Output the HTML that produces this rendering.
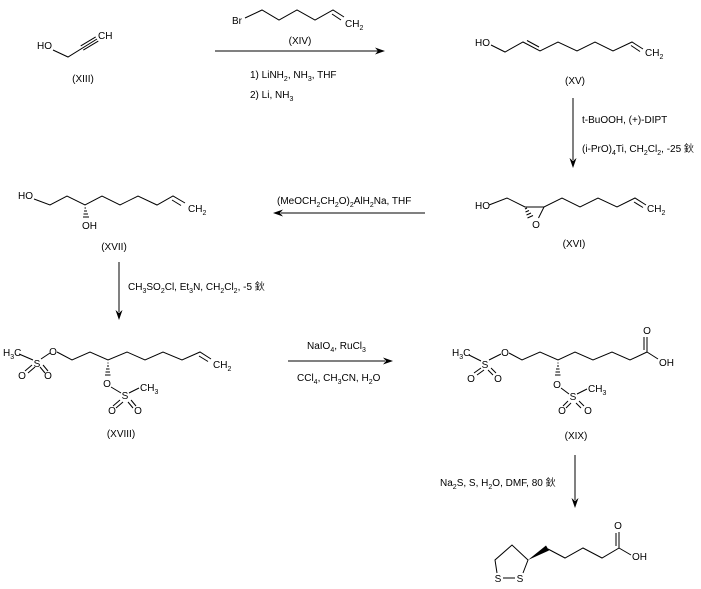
<!DOCTYPE html>
<html><head><meta charset="utf-8">
<style>
html,body{margin:0;padding:0;background:#fff;}
svg{display:block;}
text{font-family:"Liberation Sans","Noto Sans CJK SC",sans-serif;font-size:10px;fill:#000;}
</style></head>
<body>
<svg width="701" height="589" xmlns="http://www.w3.org/2000/svg">
<rect width="701" height="589" fill="#fff"/>
<g stroke="#000" stroke-width="1" fill="none">
<!-- XIII -->
<polyline points="53,50 68,57 97,39"/>
<line x1="80.7" y1="45.9" x2="95.7" y2="36.9"/>
<line x1="83.3" y1="50.1" x2="98.3" y2="41.1"/>
<!-- arrow 1 -->
<line x1="215" y1="51" x2="378" y2="51"/>
<!-- XIV -->
<polyline points="245,18 262,10 279,20 297,10 315,20 333,10 344,17"/>
<line x1="332" y1="14" x2="341" y2="20"/>
<!-- XV -->
<polyline points="491,45 505,52 523,42 540,51 558,42 577,51 595,42 613,51 632,42 643,49"/>
<line x1="527" y1="40.5" x2="539" y2="47"/>
<line x1="631" y1="45.5" x2="640" y2="51.5"/>
<!-- arrow 2 -->
<line x1="573" y1="98" x2="573" y2="160"/>
<!-- XVI -->
<polyline points="489,205 507,198 525,207 544,207 562,198 580,207 598,198 617,207 635,198 646,205"/>
<line x1="544" y1="207" x2="538.5" y2="218"/>
<line x1="634" y1="202" x2="643" y2="207.5"/>
<line x1="525" y1="209" x2="527" y2="208"/>
<line x1="525.5" y1="212" x2="529" y2="210.5"/>
<line x1="526.5" y1="215" x2="531" y2="213"/>
<line x1="527.5" y1="218" x2="533" y2="215.5"/>
<!-- arrow 3 -->
<line x1="281" y1="213" x2="425" y2="213"/>
<!-- XVII -->
<polyline points="34,199 50,205 67,196 85,205 102,196 120,205 138,196 157,205 173,196 185,203"/>
<line x1="172" y1="200" x2="181" y2="205.5"/>
<line x1="84.5" y1="208" x2="86" y2="208"/>
<line x1="84" y1="211" x2="87" y2="211"/>
<line x1="83.5" y1="214" x2="88" y2="214"/>
<line x1="83" y1="217" x2="89" y2="217"/>
<!-- arrow 4 -->
<line x1="119" y1="262" x2="119" y2="312"/>
<!-- XVIII -->
<line x1="19" y1="354" x2="33" y2="360"/>
<line x1="41" y1="359" x2="50" y2="353"/>
<line x1="32" y1="365" x2="25" y2="371"/>
<line x1="35" y1="367" x2="28" y2="373"/>
<line x1="40" y1="367" x2="45" y2="373"/>
<line x1="43" y1="365" x2="48" y2="371"/>
<polyline points="57,352 72,360 90,352 108,360 127,352 145,360 163,352 182,360 200,352 211,359"/>
<line x1="199" y1="356" x2="208" y2="361.5"/>
<line x1="107.5" y1="363" x2="108.5" y2="363"/>
<line x1="107" y1="366" x2="109" y2="366"/>
<line x1="106" y1="369" x2="109.5" y2="369"/>
<line x1="105.5" y1="372" x2="110" y2="372"/>
<line x1="105" y1="375" x2="110.5" y2="375"/>
<line x1="111" y1="387" x2="121" y2="393"/>
<line x1="129" y1="393" x2="139" y2="388"/>
<line x1="120" y1="400" x2="113" y2="406"/>
<line x1="123" y1="402" x2="116" y2="408"/>
<line x1="128" y1="402" x2="133" y2="408"/>
<line x1="131" y1="400" x2="136" y2="406"/>
<!-- arrow 5 -->
<line x1="288" y1="361" x2="385" y2="361"/>
<!-- XIX -->
<line x1="469" y1="355" x2="481" y2="361"/>
<line x1="489" y1="360" x2="501" y2="354"/>
<line x1="481" y1="368" x2="474" y2="373"/>
<line x1="484" y1="370" x2="477" y2="375"/>
<line x1="488" y1="370" x2="493" y2="375"/>
<line x1="491" y1="368" x2="496" y2="373"/>
<polyline points="509,353 522,360 540,352 558,360 575,352 593,360 612,352 630,360 647,352 647,337"/>
<line x1="644" y1="350" x2="644" y2="337"/>
<line x1="647" y1="352" x2="658" y2="359"/>
<line x1="557.5" y1="363" x2="558.5" y2="363"/>
<line x1="557" y1="366" x2="559" y2="366"/>
<line x1="556" y1="369" x2="559.5" y2="369"/>
<line x1="555.5" y1="372" x2="560" y2="372"/>
<line x1="555" y1="375" x2="560.5" y2="375"/>
<line x1="561" y1="388" x2="569" y2="394"/>
<line x1="577" y1="394" x2="587" y2="389"/>
<line x1="568" y1="401" x2="563" y2="406"/>
<line x1="571" y1="403" x2="566" y2="408"/>
<line x1="576" y1="403" x2="581" y2="408"/>
<line x1="579" y1="401" x2="584" y2="406"/>
<!-- arrow 6 -->
<line x1="575" y1="455" x2="575" y2="500"/>
<!-- lipoic acid -->
<line x1="503" y1="578" x2="515" y2="578"/>
<polyline points="497,573 495,560 512,545 528,560 523,573"/>
<polyline points="548,549 565,558 583,548 602,558 619,548 619,532"/>
<line x1="616" y1="546" x2="616" y2="533"/>
<line x1="619" y1="548" x2="631" y2="555"/>
</g>
<!-- wedge & arrowheads -->
<g fill="#000" stroke="none">
<polygon points="528,560 546,545.5 549,550.5"/>
<polygon points="385,51 375,47.5 378,51 375,54.5"/>
<polygon points="573,168 569.5,158 573,161 576.5,158"/>
<polygon points="273,213 283,209.5 280,213 283,216.5"/>
<polygon points="119,320 115.5,310 119,313 122.5,310"/>
<polygon points="393,361 383,357.5 386,361 383,364.5"/>
<polygon points="575,508 571.5,498 575,501 578.5,498"/>
</g>

<!-- XIII text -->
<text x="37" y="49">HO</text>
<text x="98" y="39">CH</text>
<text x="83" y="82" text-anchor="middle">(XIII)</text>
<!-- XIV -->
<text x="232" y="24">Br</text>
<text x="345" y="27">CH<tspan dy="3" font-size="7">2</tspan></text>
<text x="300" y="44" text-anchor="middle">(XIV)</text>
<text x="250" y="78">1) LiNH<tspan dy="3" font-size="7">2</tspan><tspan dy="-3">, NH</tspan><tspan dy="3" font-size="7">3</tspan><tspan dy="-3">, THF</tspan></text>
<text x="250" y="98">2) Li, NH<tspan dy="3" font-size="7">3</tspan></text>
<!-- XV -->
<text x="475" y="46">HO</text>
<text x="645" y="56">CH<tspan dy="3" font-size="7">2</tspan></text>
<text x="575" y="84" text-anchor="middle">(XV)</text>
<text x="582" y="123">t-BuOOH, (+)-DIPT</text>
<text x="582" y="152">(i-PrO)<tspan dy="3" font-size="7">4</tspan><tspan dy="-3">Ti, CH</tspan><tspan dy="3" font-size="7">2</tspan><tspan dy="-3">Cl</tspan><tspan dy="3" font-size="7">2</tspan><tspan dy="-3">, -25 鈥</tspan></text>
<!-- XVI -->
<text x="475" y="209">HO</text>
<text x="536" y="228" text-anchor="middle">O</text>
<text x="647" y="212">CH<tspan dy="3" font-size="7">2</tspan></text>
<text x="574" y="247" text-anchor="middle">(XVI)</text>
<text x="277" y="204">(MeOCH<tspan dy="3" font-size="7">2</tspan><tspan dy="-3">CH</tspan><tspan dy="3" font-size="7">2</tspan><tspan dy="-3">O)</tspan><tspan dy="3" font-size="7">2</tspan><tspan dy="-3">AlH</tspan><tspan dy="3" font-size="7">2</tspan><tspan dy="-3">Na, THF</tspan></text>
<!-- XVII -->
<text x="18" y="199">HO</text>
<text x="82" y="229">OH</text>
<text x="188" y="212">CH<tspan dy="3" font-size="7">2</tspan></text>
<text x="114" y="250" text-anchor="middle">(XVII)</text>
<text x="128" y="290">CH<tspan dy="3" font-size="7">3</tspan><tspan dy="-3">SO</tspan><tspan dy="3" font-size="7">2</tspan><tspan dy="-3">Cl, Et</tspan><tspan dy="3" font-size="7">3</tspan><tspan dy="-3">N, CH</tspan><tspan dy="3" font-size="7">2</tspan><tspan dy="-3">Cl</tspan><tspan dy="3" font-size="7">2</tspan><tspan dy="-3">, -5 鈥</tspan></text>
<!-- XVIII -->
<text x="3" y="356">H<tspan dy="3" font-size="7">3</tspan><tspan dy="-3">C</tspan></text>
<text x="37" y="367" text-anchor="middle">S</text>
<text x="53" y="355" text-anchor="middle">O</text>
<text x="22" y="379" text-anchor="middle">O</text>
<text x="48" y="379" text-anchor="middle">O</text>
<text x="107" y="387" text-anchor="middle">O</text>
<text x="125" y="399" text-anchor="middle">S</text>
<text x="140" y="391">CH<tspan dy="3" font-size="7">3</tspan></text>
<text x="112" y="414" text-anchor="middle">O</text>
<text x="138" y="414" text-anchor="middle">O</text>
<text x="213" y="368">CH<tspan dy="3" font-size="7">2</tspan></text>
<text x="121" y="437" text-anchor="middle">(XVIII)</text>
<text x="307" y="349">NaIO<tspan dy="3" font-size="7">4</tspan><tspan dy="-3">, RuCl</tspan><tspan dy="3" font-size="7">3</tspan></text>
<text x="297" y="381">CCl<tspan dy="3" font-size="7">4</tspan><tspan dy="-3">, CH</tspan><tspan dy="3" font-size="7">3</tspan><tspan dy="-3">CN, H</tspan><tspan dy="3" font-size="7">2</tspan><tspan dy="-3">O</tspan></text>
<!-- XIX -->
<text x="452" y="356">H<tspan dy="3" font-size="7">3</tspan><tspan dy="-3">C</tspan></text>
<text x="485" y="368" text-anchor="middle">S</text>
<text x="505" y="356" text-anchor="middle">O</text>
<text x="471" y="382" text-anchor="middle">O</text>
<text x="498" y="382" text-anchor="middle">O</text>
<text x="557" y="388" text-anchor="middle">O</text>
<text x="573" y="400" text-anchor="middle">S</text>
<text x="588" y="392">CH<tspan dy="3" font-size="7">3</tspan></text>
<text x="562" y="414" text-anchor="middle">O</text>
<text x="588" y="414" text-anchor="middle">O</text>
<text x="647" y="334" text-anchor="middle">O</text>
<text x="659" y="366">OH</text>
<text x="576" y="439" text-anchor="middle">(XIX)</text>
<text x="440" y="486">Na<tspan dy="3" font-size="7">2</tspan><tspan dy="-3">S, S, H</tspan><tspan dy="3" font-size="7">2</tspan><tspan dy="-3">O, DMF, 80 鈥</tspan></text>
<!-- lipoic acid -->
<text x="498" y="582" text-anchor="middle">S</text>
<text x="520" y="582" text-anchor="middle">S</text>
<text x="618" y="529" text-anchor="middle">O</text>
<text x="632" y="560">OH</text>
</svg>
</body></html>
